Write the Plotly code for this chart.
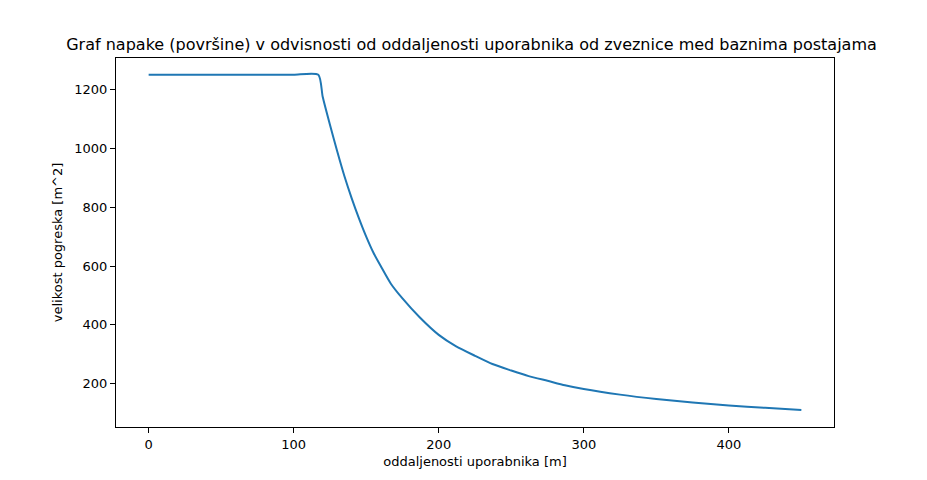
import plotly.graph_objects as go

# distance of user [m] and error area [m^2]
razdalja = [0, 20, 40, 60, 80, 100, 117, 120, 125, 130, 135, 140, 145, 150, 155, 160, 167, 175, 187, 200, 212, 225, 237, 250, 262, 275, 287, 300, 325, 350, 375, 400, 425, 450]
napaka = [1250, 1250, 1250, 1250, 1250, 1250, 1250, 1175, 1080, 990, 905, 830, 762, 700, 645, 600, 540, 490, 425, 366, 327, 295, 267, 245, 226, 210, 195, 182, 163, 148, 136, 126, 118, 111]

fig = go.Figure()
fig.add_trace(go.Scatter(x=razdalja, y=napaka, mode="lines", line=dict(color="#1f77b4", width=2, shape="spline", smoothing=0.6)))

ax = dict(showgrid=False, zeroline=False, showline=True, linecolor="black", mirror=True,
          ticks="outside", ticklen=5, tickcolor="black", tickfont=dict(size=13))
fig.update_layout(
    width=927, height=480, paper_bgcolor="white", plot_bgcolor="white",
    font=dict(family="DejaVu Sans", color="black", size=13),
    margin=dict(l=108, r=101, t=50, b=61),
    showlegend=False,
    title=dict(text="Graf napake (površine) v odvisnosti od oddaljenosti uporabnika od zveznice med baznima postajama",
               x=0.5, xanchor="center", y=0.925, yanchor="middle", font=dict(size=16)),
    xaxis=dict(ax, range=[-22.5, 472.5], tickvals=[0, 100, 200, 300, 400],
               title=dict(text="oddaljenosti uporabnika [m]", standoff=6, font=dict(size=13))),
    yaxis=dict(ax, range=[53, 1307], tickvals=[200, 400, 600, 800, 1000, 1200],
               title=dict(text="velikost pogreska [m^2]", standoff=8, font=dict(size=13))),
)
fig.write_html("out.html")
